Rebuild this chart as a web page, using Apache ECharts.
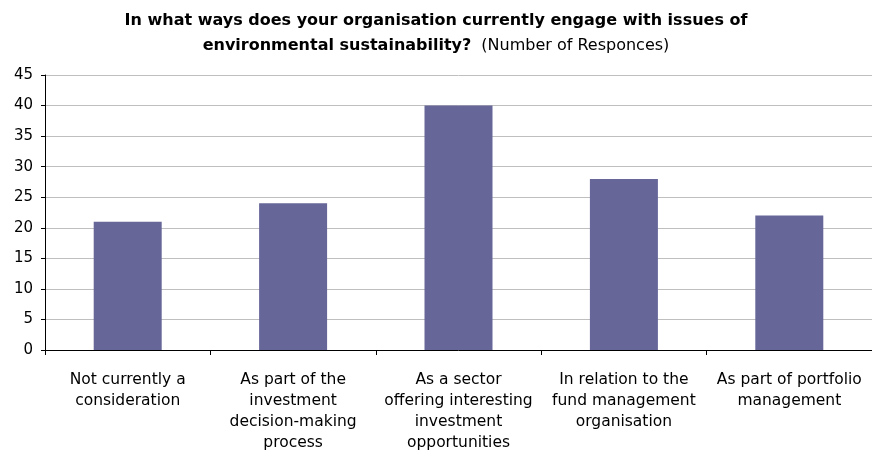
<!DOCTYPE html>
<html>
<head>
<meta charset="utf-8">
<script src="https://cdn.jsdelivr.net/npm/echarts@6/dist/echarts.min.js"></script>
<style>html,body{margin:0;padding:0;background:#fff}#c{width:872px;height:461px}</style>
</head>
<body>
<div id="c"></div>
<script>
const categories = [
  "Not currently a\nconsideration",
  "As part of the\ninvestment\ndecision-making\nprocess",
  "As a sector\noffering interesting\ninvestment\nopportunities",
  "In relation to the\nfund management\norganisation",
  "As part of portfolio\nmanagement"
];
const responses = [21, 24, 40, 28, 22];
const titleLine1 = "In what ways does your organisation currently engage with issues of";
const titleLine2 = "environmental sustainability?";
const titleNote = "(Number of Responces)";

const chart = echarts.init(document.getElementById('c'), null, {renderer: 'canvas'});
const font = "'DejaVu Sans', sans-serif";
chart.setOption({
  animation: false,
  backgroundColor: '#fff',
  title: {
    text: '{b|' + titleLine1 + '}\n{b|' + titleLine2 + '}  {n|' + titleNote + '}',
    left: 'center',
    top: 3,
    textStyle: {
      rich: {
        b: {fontFamily: font, fontWeight: 'bold', fontSize: 16, color: '#000', lineHeight: 25},
        n: {fontFamily: font, fontWeight: 'normal', fontSize: 16, color: '#000', lineHeight: 25}
      }
    }
  },
  grid: {left: 45, top: 75, width: 831, height: 275, containLabel: false},
  xAxis: {
    type: 'category',
    data: categories,
    boundaryGap: true,
    axisLine: {show: true, lineStyle: {color: '#000', width: 1}},
    axisTick: {show: true, length: 5, lineStyle: {color: '#000'}},
    axisLabel: {fontFamily: font, fontSize: 15.5, color: '#000', lineHeight: 21, margin: 19, interval: 0}
  },
  yAxis: {
    type: 'value',
    min: 0, max: 45, interval: 5,
    axisLine: {show: true, lineStyle: {color: '#000', width: 1}},
    axisTick: {show: true, length: 4, lineStyle: {color: '#000'}},
    axisLabel: {fontFamily: font, fontSize: 15, color: '#000', margin: 12},
    splitLine: {show: true, lineStyle: {color: '#bfbfbf', width: 1}}
  },
  series: [{
    type: 'bar',
    data: responses,
    barWidth: 68,
    itemStyle: {color: '#666699'}
  }]
});
</script>
</body>
</html>
